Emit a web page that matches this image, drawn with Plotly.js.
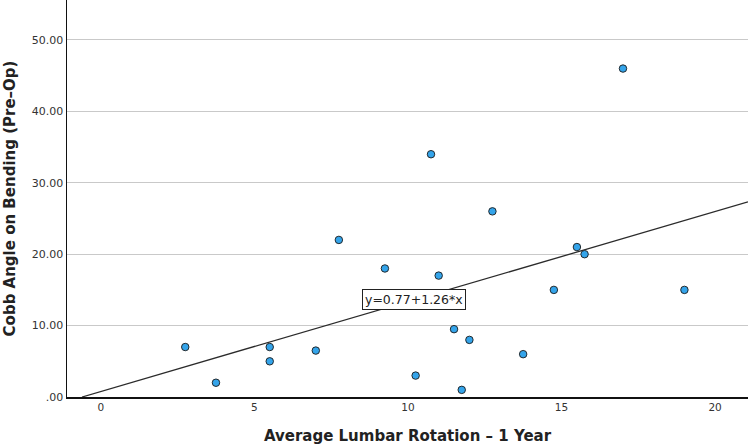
<!DOCTYPE html>
<html>
<head>
<meta charset="utf-8">
<script src="https://cdn.plot.ly/plotly-3.0.1.min.js"></script>
<style>html,body{margin:0;padding:0;background:#fff;}#chart{width:750px;height:445px;}</style>
</head>
<body>
<div id="chart"></div>
<script>
// Data
const rotation = [2.75, 3.75, 5.5, 5.5, 7.0, 7.75, 9.25, 10.25, 10.75, 11.0, 11.5, 11.75, 12.0, 12.75, 13.75, 14.75, 15.5, 15.75, 17.0, 19.0];
const cobbAngle = [7, 2, 7, 5, 6.5, 22, 18, 3, 34, 17, 9.5, 1, 8, 26, 6, 15, 21, 20, 46, 15];
const fitIntercept = 0.77;
const fitSlope = 1.26;
const fitLabel = "y=0.77+1.26*x";
const xTickVals = [0, 5, 10, 15, 20];
const yTickVals = [0, 10, 20, 30, 40, 50];
const yTickText = [".00", "10.00", "20.00", "30.00", "40.00", "50.00"];

const xRange = [-1.1, 21.07];
const yRange = [0, 55.6];

// Fit line from coefficients, clipped to the plot
const fitX0 = -fitIntercept / fitSlope;
const fitX1 = xRange[1];
const fitX = [fitX0, fitX1];
const fitY = fitX.map(x => fitIntercept + fitSlope * x);

const traces = [
  {
    x: fitX, y: fitY, type: 'scatter', mode: 'lines',
    line: {color: '#2b2b2b', width: 1.3}, hoverinfo: 'skip', cliponaxis: true
  },
  {
    x: rotation, y: cobbAngle, type: 'scatter', mode: 'markers',
    marker: {size: 7.5, color: '#34a4ea', line: {color: '#1a1a1a', width: 0.9}}
  }
];

const font = 'DejaVu Sans, Arial, sans-serif';
const layout = {
  width: 750, height: 445,
  margin: {l: 67, r: 2, t: 0, b: 48},
  paper_bgcolor: '#ffffff', plot_bgcolor: '#ffffff',
  showlegend: false,
  font: {family: font, color: '#333333'},
  xaxis: {
    range: xRange, tickvals: xTickVals, ticks: '', showgrid: false, zeroline: false,
    showline: true, linecolor: '#111111', linewidth: 1.5,
    tickfont: {size: 10.5, color: '#333333', family: font},
    title: {text: 'Average Lumbar Rotation – 1 Year', font: {size: 15, color: '#222222', family: 'DejaVu Sans, Arial, sans-serif', weight: 'bold'}, standoff: 19}
  },
  yaxis: {
    range: yRange, tickvals: yTickVals, ticktext: yTickText, ticks: '',
    showgrid: true, gridcolor: '#c9c9c9', gridwidth: 1, zeroline: false,
    showline: true, linecolor: '#111111', linewidth: 1.5,
    tickfont: {size: 11, color: '#333333', family: font},
    title: {text: 'Cobb Angle on Bending (Pre–Op)', font: {size: 15, color: '#222222', family: 'DejaVu Sans, Arial, sans-serif', weight: 'bold'}, standoff: 12}
  },
  annotations: [{
    x: 10.21, y: 13.65, xref: 'x', yref: 'y', text: fitLabel, showarrow: false,
    font: {size: 12.5, color: '#222222', family: font},
    bgcolor: '#ffffff', bordercolor: '#222222', borderwidth: 1, borderpad: 2
  }]
};

Plotly.newPlot('chart', traces, layout, {displayModeBar: false, staticPlot: true});
</script>
</body>
</html>
